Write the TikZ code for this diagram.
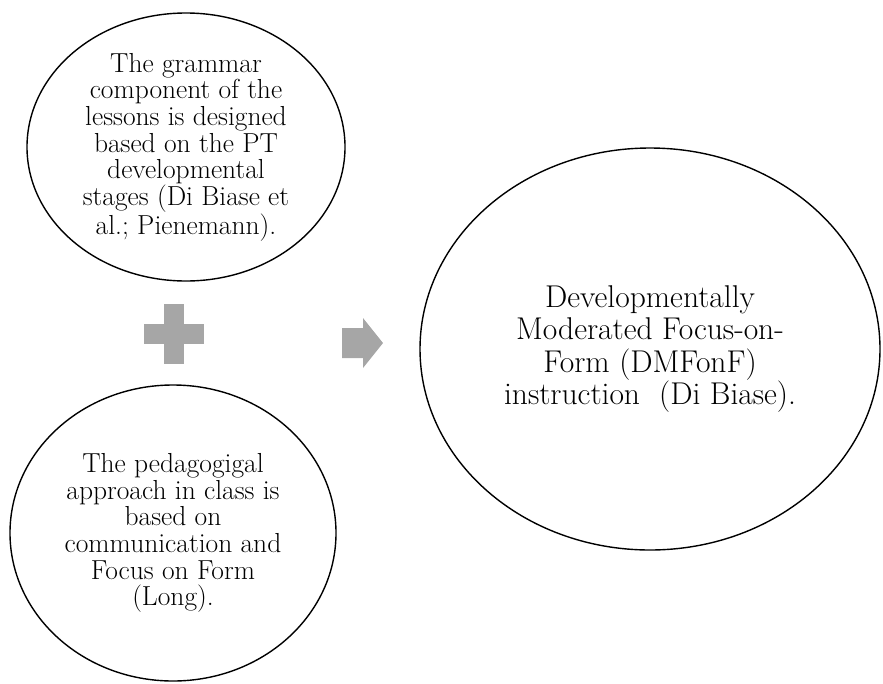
\documentclass[tikz,border=0pt]{standalone}
\usepackage{fontspec}
\usetikzlibrary{shapes.geometric}
\definecolor{signgray}{RGB}{166,166,166}

\begin{document}
\begin{tikzpicture}[
  x=1pt,y=-1pt,
  bubble/.style={draw,ellipse,line width=1.4pt,inner sep=0pt,align=center,font=\fontsize{27.5}{26.7}\selectfont},
  big bubble/.style={bubble,font=\fontsize{31.5}{32.5}\selectfont},
  sign/.style={fill=signgray}
]
\useasboundingbox (0,0) rectangle (883,683);
\node[bubble,minimum width=318,minimum height=268] (grammar) at (186,147)
  {The grammar\\component of the\\lessons is designed\\based on the PT\\developmental\\stages (Di Biase et\\al.; Pienemann).};
\node[bubble,minimum width=326,minimum height=296] (pedagogy) at (173,533)
  {The pedagogigal\\approach in class is\\based on\\communication and\\Focus on Form\\(Long).};
\node[big bubble,minimum width=460,minimum height=402] (dmfonf) at (650,349)
  {Developmentally\\Moderated Focus-on-\\Form (DMFonF)\\instruction~~(Di Biase).};
% plus sign
\coordinate (plus) at (174,334);
\fill[sign] (plus) ++(-10,-30) rectangle ++(20,60);
\fill[sign] (plus) ++(-30,-10) rectangle ++(60,20);
% arrow
\coordinate (arrow) at (342,343);
\fill[sign] (arrow) ++(0,-15) -- ++(21,0) -- ++(0,-10) -- ++(20,25) -- ++(-20,25) -- ++(0,-10) -- ++(-21,0) -- cycle;
\end{tikzpicture}
\end{document}
